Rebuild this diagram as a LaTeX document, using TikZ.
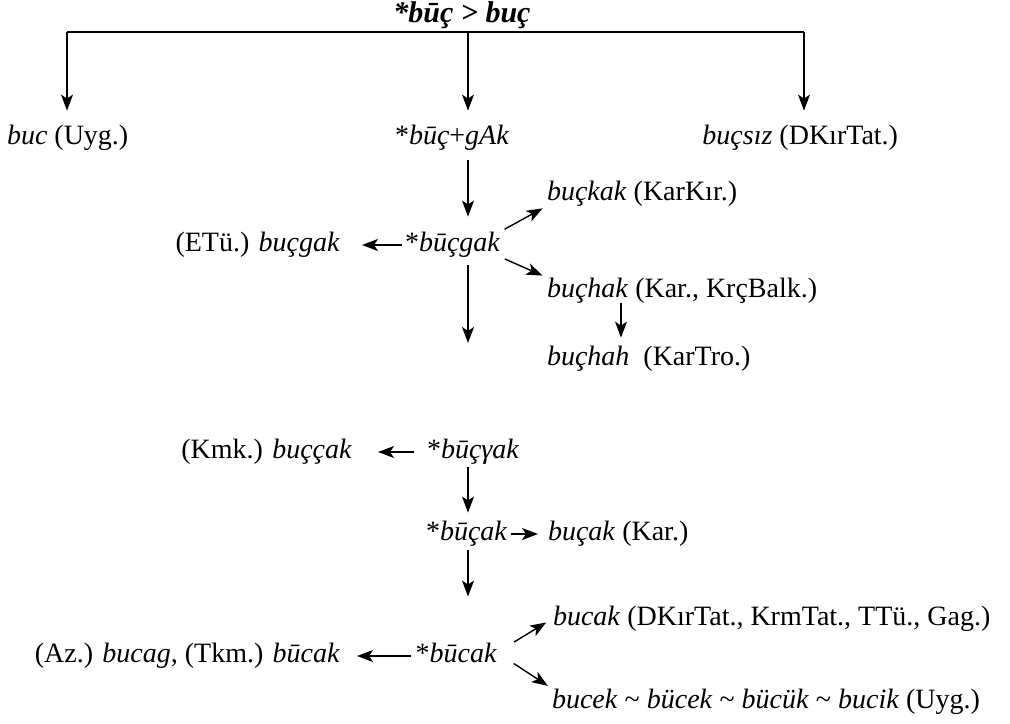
\documentclass[tikz,border=0pt]{standalone}
\usepackage{fontspec}
\setmainfont{Liberation Serif}
\usetikzlibrary{arrows.meta}

\begin{document}
\begin{tikzpicture}[x=0.5pt, y=-0.5pt, line width=0.7pt,
    >={Stealth[length=8pt, width=6pt, inset=2pt]},
    every node/.style={inner sep=0pt, outer sep=0pt, font=\fontsize{14}{17}\selectfont}]
\useasboundingbox (0,0) rectangle (1010,723);

% root and the bar under it
\node[anchor=base, font=\fontsize{15}{18}\selectfont] (root) at (462,22) {\textbf{\textit{*būç > buç}}};
\coordinate (barL) at (67,32);
\coordinate (barM) at (468,32);
\coordinate (barR) at (804,32);
\draw (barL) -- (barR);

\node[anchor=base west] (buc) at (7,144) {\textit{buc} (Uyg.)};
\node[anchor=base west] (bucgAk) at (395,144) {*\textit{būç}+\textit{gAk}};
\node[anchor=base east] (bucsiz) at (898,144) {\textit{buçsız} (DKırTat.)};

\draw[->, shorten >=7pt] (barL) -- (buc.north -| barL);
\draw[->, shorten >=7pt] (barM) -- (bucgAk.north -| barM);
\draw[->, shorten >=7pt] (barR) -- (bucsiz.north -| barR);

% *bucgak and its branches
\node[anchor=base west] (bucgak) at (405,251) {*\textit{būçgak}};
\node[anchor=base east] (etu) at (340,251) {(ETü.) \textit{buçgak}};
\node[anchor=base west] (buckak) at (547,200) {\textit{buçkak} (KarKır.)};
\node[anchor=base west] (buchak) at (547,297) {\textit{buçhak} (Kar., KrçBalk.)};
\node[anchor=base west] (buchah) at (547,365) {\textit{buçhah}\ \ (KarTro.)};
\coordinate (bucgakEnd) at (468,343);

\draw[->, shorten <=5pt, shorten >=7.5pt] (bucgAk.south -| barM) -- (bucgak.north -| barM);
\draw[->, shorten <=1.5pt, shorten >=11pt] ([yshift=3pt]bucgak.base west) -- ([yshift=3pt]etu.base east);
\draw[->, shorten <=2.5pt, shorten >=2.5pt] (bucgak.north east) -- (buckak.south west);
\draw[->, shorten <=2.5pt, shorten >=2.5pt] (bucgak.south east) -- (buchak.north west);
\draw[->, shorten >=4pt] ([xshift=37pt]buchak.south west) -- ([xshift=37pt]buchah.north west);
\draw[->, shorten <=4pt] (bucgak.south -| barM) -- (bucgakEnd);

% *bucyak down to *bucak
\node[anchor=base west] (bucyak) at (427,458) {*\textit{būçγak}};
\node[anchor=base east] (kmk) at (352,458) {(Kmk.) \textit{buççak}};
\node[anchor=base west] (bucak) at (426,540) {*\textit{būçak}};
\node[anchor=base west] (karbucak) at (548,540) {\textit{buçak} (Kar.)};

\draw[->, shorten <=6.5pt, shorten >=13pt] ([yshift=3pt]bucyak.base west) -- ([yshift=3pt]kmk.base east);
\draw[->, shorten <=1.5pt, shorten >=4pt] (bucyak.south -| barM) -- (bucak.north -| barM);
\draw[->, shorten <=2pt, shorten >=5pt] ([yshift=3pt]bucak.base east) -- ([yshift=3pt]karbucak.base west);

% *bucak and its branches
\node[anchor=base east] (bcak) at (497,662) {*\textit{būcak}};
\node[anchor=base east] (azform) at (340,662) {(Az.) \textit{bucag}, (Tkm.) \textit{būcak}};
\node[anchor=base west] (bucakTat) at (553,625) {\textit{bucak} (DKırTat., KrmTat., TTü., Gag.)};
\node[anchor=base west] (bucekUyg) at (552,708) {\textit{bucek} \textasciitilde{} \textit{bücek} \textasciitilde{} \textit{bücük} \textasciitilde{} \textit{bucik} (Uyg.)};

\draw[->, shorten <=2pt, shorten >=23pt] (bucak.south -| barM) -- (bcak.north -| barM);
\draw[->, shorten <=2.5pt, shorten >=8.5pt] ([yshift=3pt]bcak.base west) -- ([yshift=3pt]azform.base east);
\draw[->, shorten <=10pt, shorten >=4pt] (bcak.east) -- (bucakTat.west);
\draw[->, shorten <=10pt, shorten >=2.5pt] (bcak.east) -- (bucekUyg.north west);
\end{tikzpicture}
\end{document}
